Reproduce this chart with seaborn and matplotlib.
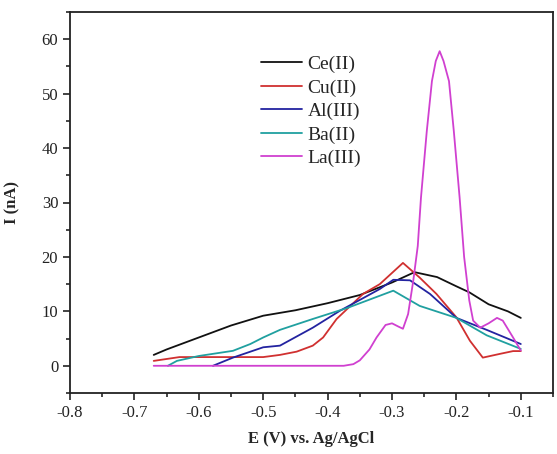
import numpy as np
import pandas as pd
import matplotlib
matplotlib.use("Agg")
import matplotlib.pyplot as plt
from matplotlib.ticker import MultipleLocator
import seaborn as sns

# Ce(II)
ce_x = [-0.67, -0.65, -0.60, -0.55, -0.50, -0.45, -0.40, -0.35, -0.30, -0.265,
        -0.23, -0.20, -0.18, -0.15, -0.12, -0.10]
ce_y = [2.0, 3.0, 5.2, 7.4, 9.2, 10.2, 11.5, 13.0, 15.3, 17.2,
        16.3, 14.6, 13.5, 11.3, 10.0, 8.8]

# Cu(II)
cu_x = [-0.67, -0.63, -0.55, -0.50, -0.474, -0.448, -0.423, -0.407, -0.386, -0.345,
        -0.319, -0.283, -0.257, -0.231, -0.20, -0.179, -0.159, -0.132, -0.112, -0.10]
cu_y = [0.9, 1.6, 1.6, 1.6, 2.0, 2.6, 3.7, 5.2, 8.6, 13.2,
        15.0, 18.9, 16.2, 13.2, 8.9, 4.6, 1.5, 2.2, 2.7, 2.7]

# Al(III)
al_x = [-0.578, -0.547, -0.50, -0.474, -0.423, -0.381, -0.319, -0.298, -0.272,
        -0.241, -0.20, -0.153, -0.10]
al_y = [0.0, 1.5, 3.4, 3.7, 7.0, 10.1, 14.1, 15.8, 15.7,
        13.2, 8.8, 6.6, 4.0]

# Ba(II)
ba_x = [-0.648, -0.634, -0.60, -0.547, -0.52, -0.50, -0.474, -0.423, -0.370,
        -0.298, -0.257, -0.20, -0.153, -0.10]
ba_y = [0.0, 0.9, 1.8, 2.75, 4.0, 5.2, 6.6, 8.6, 10.6,
        13.8, 11.0, 8.8, 5.6, 3.1]

# La(III)
la_x = [-0.67, -0.375, -0.36, -0.35, -0.335, -0.324, -0.31, -0.30, -0.29, -0.283,
        -0.275, -0.267, -0.26, -0.255, -0.246, -0.238, -0.232, -0.226, -0.22,
        -0.2115, -0.204, -0.195, -0.188, -0.18, -0.174, -0.163, -0.15, -0.137,
        -0.128, -0.112, -0.10]
la_y = [0.0, 0.0, 0.3, 1.0, 3.0, 5.2, 7.5, 7.8, 7.2, 6.8,
        9.5, 15.6, 22.0, 30.9, 43.1, 52.3, 56.0, 57.8, 56.0,
        52.3, 43.1, 30.9, 20.0, 12.0, 8.3, 7.0, 7.8, 8.8,
        8.3, 5.2, 2.8]

labels = ["Ce(II)", "Cu(II)", "Al(III)", "Ba(II)", "La(III)"]
colors = ["#111111", "#d03030", "#2323a0", "#20a0a0", "#d040d0"]

series = [(ce_x, ce_y), (cu_x, cu_y), (al_x, al_y), (ba_x, ba_y), (la_x, la_y)]
frames = []
for name, (xs, ys) in zip(labels, series):
    frames.append(pd.DataFrame({"E": xs, "I": ys, "ion": name}))
df = pd.concat(frames, ignore_index=True)

sns.set_style("ticks")
plt.rcParams['font.family'] = ['Liberation Serif', 'DejaVu Serif']

fig = plt.figure(figsize=(5.57, 4.54), dpi=100)
ax = fig.add_axes([70 / 557, 61 / 454, 483 / 557, 381 / 454])

sns.lineplot(data=df, x="E", y="I", hue="ion", hue_order=labels,
             palette=dict(zip(labels, colors)), estimator=None, sort=False,
             linewidth=1.3, ax=ax)

ax.set_xlim(-0.8, -0.05)
ax.set_ylim(-5, 65)
ax.xaxis.set_minor_locator(MultipleLocator(0.05))
ax.yaxis.set_minor_locator(MultipleLocator(5))
ax.set_xticks(np.arange(-0.8, -0.05, 0.1))
ax.set_xticklabels(["-0.8", "-0.7", "-0.6", "-0.5", "-0.4", "-0.3", "-0.2", "-0.1"])
ax.set_yticks(np.arange(0, 61, 10))
ax.tick_params(which="major", direction="out", length=5, width=1.2, labelsize=12,
               colors="#222222")
ax.tick_params(which="minor", direction="out", length=3, width=1.2)
for s in ax.spines.values():
    s.set_linewidth(1.3)
    s.set_color("#222222")

ax.set_xlabel("E (V) vs. Ag/AgCl", fontsize=12, fontweight="bold", labelpad=7)
ax.set_ylabel("I (nA)", fontsize=12, fontweight="bold", labelpad=15)

ax.legend(loc="upper left", bbox_to_anchor=(0.395, 0.886), frameon=False,
          fontsize=14, handlelength=2.1, handletextpad=0.3, labelspacing=0.3,
          borderpad=0, borderaxespad=0)

fig.savefig("out.png", dpi=100)
